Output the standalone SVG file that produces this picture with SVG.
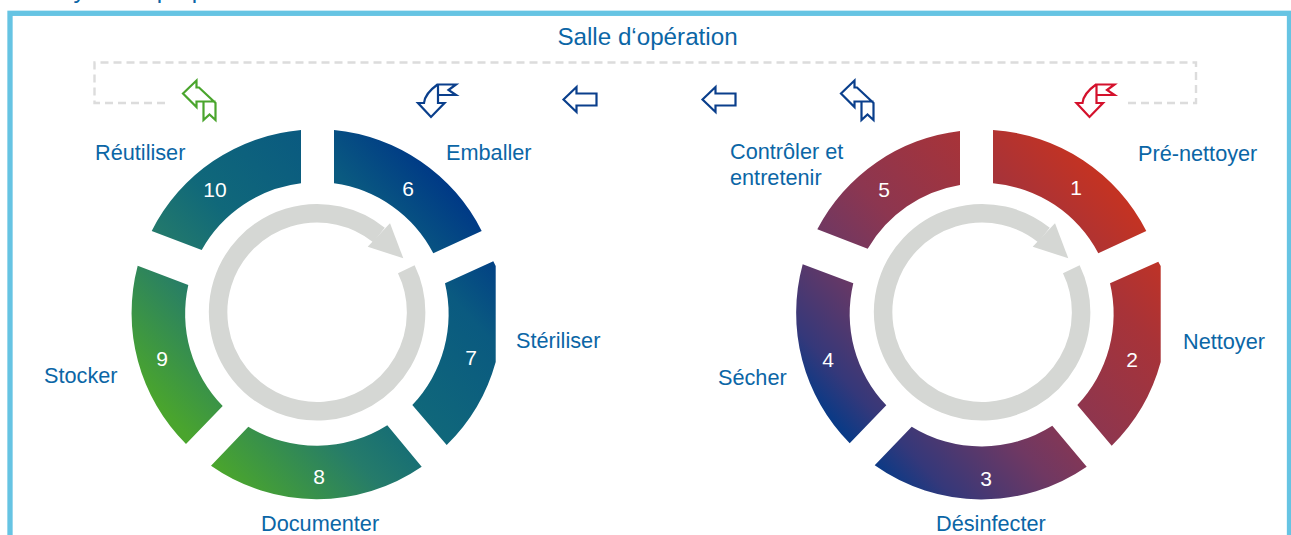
<svg xmlns="http://www.w3.org/2000/svg" width="1291" height="535" viewBox="0 0 1291 535">
<style>
text{font-family:"Liberation Sans",Arial,sans-serif}
.l{fill:#0b66a6;font-size:21.700px}
.t{fill:#0b66a6;font-size:24.200px}
.n{fill:#fff;font-size:21px;text-anchor:middle}
.ring{fill:none;stroke:#d5d7d4;stroke-width:18.500}
.hd{fill:#d5d7d4}
.ic{fill:#fff;stroke-width:2.200;stroke-linejoin:miter}
</style>
<defs>
<linearGradient id="gl" gradientUnits="userSpaceOnUse" x1="195" y1="445" x2="460" y2="200"><stop offset="0" stop-color="#4aa52d"/><stop offset=".3" stop-color="#257b6a"/><stop offset=".5" stop-color="#10687a"/><stop offset=".8" stop-color="#0a5a80"/><stop offset="1" stop-color="#003a86"/></linearGradient>
<linearGradient id="gr" gradientUnits="userSpaceOnUse" x1="855" y1="445" x2="1120" y2="200"><stop offset="0" stop-color="#0a3a86"/><stop offset=".1" stop-color="#35387a"/><stop offset=".2" stop-color="#4f386f"/><stop offset=".33" stop-color="#703862"/><stop offset=".5" stop-color="#8c3650"/><stop offset=".8" stop-color="#a83338"/><stop offset="1" stop-color="#c33323"/></linearGradient>
<path id="up" d="M841 93.500 L854.500 80.500 V87.500 H857 L873.500 103 V120 L867.500 114.500 L861.500 120 V101.500 H854.500 V107 Z M861.500 101.500 H873.500"/>
<path id="dn" d="M1076.500 103 H1082.500 C1083 97 1087 91 1096 84.500 H1114.500 L1107 90 L1114.500 95 H1096.500 V103 H1103 L1089.500 117 Z M1096.500 84.500 V95"/>
</defs>
<text x="56" y="-2" class="t">Cycle de préparation</text>
<rect x="10" y="13.300" width="1279.500" height="540" fill="none" stroke="#66c4e3" stroke-width="5.300"/>
<text x="647.500" y="45" text-anchor="middle" class="t">Salle d‘opération</text>
<g id="connectors">
<path d="M165 103 H94.500 V62.500 H1196 V103 H1128" fill="none" stroke="#dcdcdc" stroke-width="2.400" stroke-dasharray="8 5"/>
</g>
<g id="icons" class="ic">
<g id="icon-reutiliser" stroke="#4aa52d"><use href="#up" x="-658"/></g>
<g id="icon-emballer" stroke="#0a3f8c"><use href="#dn" x="-658.500"/></g>
<g id="icon-a1" stroke="#0a3f8c"><path d="M563.500 99.500 L576.500 87 V93.500 H596.500 V105.500 H576.500 V112 Z"/></g>
<g id="icon-a2" stroke="#0a3f8c"><path d="M702.500 99.500 L715.500 87 V93.500 H735.500 V105.500 H715.500 V112 Z"/></g>
<g id="icon-controle" stroke="#0a3f8c"><use href="#up"/></g>
<g id="icon-pre" stroke="#d4112c"><use href="#dn"/></g>
</g>
<g id="cycle-left">
<g id="n6"><path fill="url(#gl)" d="M334 130 A185 185 0 0 1 481.700 231 L433.300 253.300 A132 132 0 0 0 334 183.300Z"/><text class="n" x="408" y="196">6</text><text class="l" x="446" y="160">Emballer</text></g>
<g id="n7"><path fill="url(#gl)" d="M493.300 261.300 L445 283.300 A132 132 0 0 1 412.300 405 L446.700 445 A185 185 0 0 0 495.700 362 V266 Z"/><text class="n" x="471" y="365">7</text><text class="l" x="516" y="348">Stériliser</text></g>
<g id="n8"><path fill="url(#gl)" d="M248.300 426.700 A132 132 0 0 0 387.300 425.300 L421.700 466.700 A185 185 0 0 1 211 465.700Z"/><text class="n" x="319" y="484">8</text><text class="l" x="261" y="531">Documenter</text></g>
<g id="n9"><path fill="url(#gl)" d="M137.700 265.700 L188.300 285 A132 132 0 0 0 222.700 406 L186 444 A185 185 0 0 1 137.700 265.700Z"/><text class="n" x="162" y="366">9</text><text class="l" x="44" y="383">Stocker</text></g>
<g id="n10"><path fill="url(#gl)" d="M151.700 231 L201.700 250 A132 132 0 0 1 301 183.300 V130 A185 185 0 0 0 151.700 231Z"/><text class="n" x="215" y="197">10</text><text class="l" x="95" y="160">Réutiliser</text></g>
<g id="arrow-left"><path class="ring" d="M406.300 269.300 A99 99 0 1 1 379 235"/><path class="hd" d="M390 223.300 L403.300 258.300 L367.700 246.700 Z"/></g>
</g>
<g id="cycle-right">
<g id="n1"><path fill="url(#gr)" d="M993 130 A185 185 0 0 1 1146.300 231 L1098.300 253.300 A132 132 0 0 0 993 183.300Z"/><text class="n" x="1076" y="195">1</text><text class="l" x="1138" y="161">Pré-nettoyer</text></g>
<g id="n2"><path fill="url(#gr)" d="M1158.300 261.700 L1110 283.300 A132 132 0 0 1 1077.300 405 L1111.700 445.700 A185 185 0 0 0 1160.700 362 V266 Z"/><text class="n" x="1132" y="367">2</text><text class="l" x="1183" y="349">Nettoyer</text></g>
<g id="n3"><path fill="url(#gr)" d="M911.700 426.700 A132 132 0 0 0 1052.300 425.700 L1086.700 466.700 A185 185 0 0 1 874.700 465.300Z"/><text class="n" x="986" y="486">3</text><text class="l" x="936" y="531">Désinfecter</text></g>
<g id="n4"><path fill="url(#gr)" d="M802.700 264.300 L853.300 283.300 A132 132 0 0 0 886.300 405.300 L849.700 443.300 A185 185 0 0 1 802.700 264.300Z"/><text class="n" x="828" y="367">4</text><text class="l" x="718" y="385">Sécher</text></g>
<g id="n5"><path fill="url(#gr)" d="M817.300 229.300 L867.700 248.700 A132 132 0 0 1 960 185 V131 A185 185 0 0 0 817.300 229.300Z"/><text class="n" x="884" y="197">5</text><text class="l" x="730" y="159">Contrôler et</text><text class="l" x="730" y="185">entretenir</text></g>
<g id="arrow-right"><path class="ring" d="M1071.300 269.300 A99 99 0 1 1 1044 235"/><path class="hd" d="M1055 223.300 L1068.300 258.300 L1032.700 246.700 Z"/></g>
</g>
</svg>
